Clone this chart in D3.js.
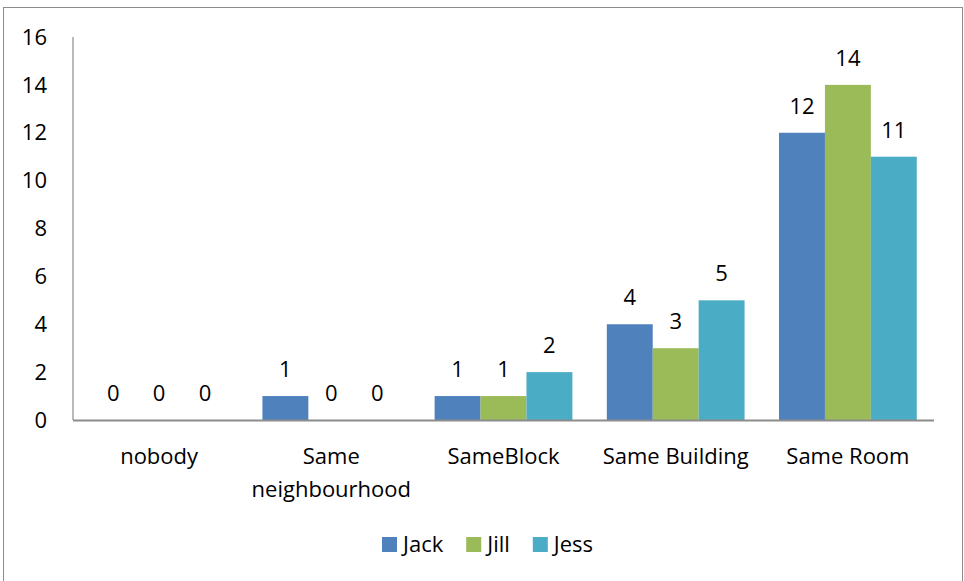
<!DOCTYPE html>
<html>
<head>
<meta charset="utf-8">
<script src="https://cdn.jsdelivr.net/npm/d3@7"></script>
<style>
  html, body { margin: 0; padding: 0; background: #fff; }
  svg { display: block; }
  text { font-family: "Open Sans", sans-serif; fill: #000; }
</style>
</head>
<body>
<svg id="chart" width="964" height="581"></svg>
<script>
// Categories (label lines) and series values
const categories = ["nobody", "Same neighbourhood", "SameBlock", "Same Building", "Same Room"];
const categoryLines = [["nobody"], ["Same", "neighbourhood"], ["SameBlock"], ["Same Building"], ["Same Room"]];
const seriesNames = ["Jack", "Jill", "Jess"];
const jack = [0, 1, 1, 4, 12];
const jill = [0, 0, 1, 3, 14];
const jess = [0, 0, 2, 5, 11];
const yTicks = [0, 2, 4, 6, 8, 10, 12, 14, 16];
const colors = ["#4F81BD", "#9BBB59", "#4BACC6"];

const seriesValues = [jack, jill, jess];
const rows = categories.map((c, i) => ({
  category: c,
  lines: categoryLines[i],
  values: seriesNames.map((s, k) => ({ series: s, value: seriesValues[k][i] }))
}));

const svg = d3.select("#chart");
const fontSize = 22;

// Outer chart frame
svg.append("rect")
  .attr("x", 3.5).attr("y", 7.5)
  .attr("width", 959).attr("height", 590)
  .attr("fill", "none").attr("stroke", "#8c8c8c").attr("stroke-width", 1);

const plot = { left: 73, right: 934, top: 37, bottom: 420 };

const x = d3.scaleBand()
  .domain(categories)
  .range([plot.left, plot.right])
  .paddingInner(0.2)
  .paddingOuter(0.1);

const xInner = d3.scaleBand()
  .domain(seriesNames)
  .range([0, x.bandwidth()])
  .padding(0);

const y = d3.scaleLinear()
  .domain([0, 16])
  .range([plot.bottom, plot.top]);

// Y tick labels
svg.append("g").selectAll("text")
  .data(yTicks)
  .join("text")
  .attr("x", 47)
  .attr("y", d => y(d))
  .attr("dy", "0.35em")
  .attr("text-anchor", "end")
  .attr("font-size", fontSize)
  .text(d => d);

// Bars
const groups = svg.append("g").selectAll("g")
  .data(rows)
  .join("g")
  .attr("transform", d => `translate(${x(d.category)},0)`);

groups.selectAll("rect")
  .data(d => d.values)
  .join("rect")
  .attr("x", d => xInner(d.series))
  .attr("y", d => y(d.value))
  .attr("width", xInner.bandwidth())
  .attr("height", d => y(0) - y(d.value))
  .attr("fill", (d, i) => colors[i]);

// Value labels above bars
groups.selectAll("text.value")
  .data(d => d.values)
  .join("text")
  .attr("class", "value")
  .attr("x", d => xInner(d.series) + xInner.bandwidth() / 2)
  .attr("y", d => y(d.value) - 19)
  .attr("text-anchor", "middle")
  .attr("font-size", fontSize)
  .text(d => d.value);

// Axis lines
svg.append("line")
  .attr("x1", plot.left).attr("x2", plot.left)
  .attr("y1", plot.top).attr("y2", plot.bottom)
  .attr("stroke", "#8c8c8c").attr("stroke-width", 1.2);
svg.append("line")
  .attr("x1", plot.left).attr("x2", plot.right)
  .attr("y1", plot.bottom + 0.5).attr("y2", plot.bottom + 0.5)
  .attr("stroke", "#8c8c8c").attr("stroke-width", 2);

// Category labels
const catLabels = svg.append("g").selectAll("text")
  .data(rows)
  .join("text")
  .attr("x", d => x(d.category) + x.bandwidth() / 2)
  .attr("y", 464)
  .attr("text-anchor", "middle")
  .attr("font-size", fontSize);
catLabels.selectAll("tspan")
  .data(d => d.lines)
  .join("tspan")
  .attr("x", function () { return d3.select(this.parentNode).attr("x"); })
  .attr("dy", (d, i) => i === 0 ? 0 : 33)
  .text(d => d);

// Legend
const legend = svg.append("g");
let lx = 382;
seriesNames.forEach((name, i) => {
  legend.append("rect")
    .attr("x", lx).attr("y", 537)
    .attr("width", 15).attr("height", 15)
    .attr("fill", colors[i]);
  const t = legend.append("text")
    .attr("x", lx + 21).attr("y", 552)
    .attr("font-size", fontSize)
    .text(name);
  lx += 21 + t.node().getComputedTextLength() + 23;
});
</script>
</body>
</html>
